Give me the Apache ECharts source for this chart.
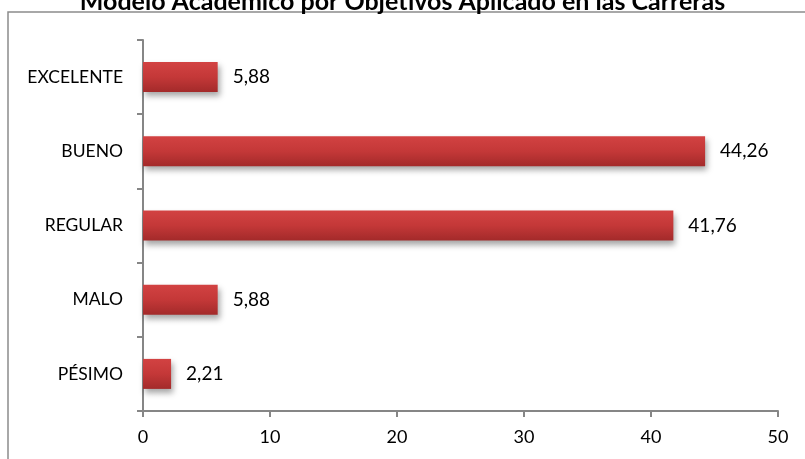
<!DOCTYPE html>
<html>
<head>
<meta charset="utf-8">
<script src="https://cdn.jsdelivr.net/npm/echarts@6/dist/echarts.min.js"></script>
<style>
  html, body { margin: 0; padding: 0; background: #fff; }
  #main { width: 805px; height: 459px; }
</style>
</head>
<body>
<div id="main"></div>
<script>
// datos del gráfico
const categorias = ['PÉSIMO', 'MALO', 'REGULAR', 'BUENO', 'EXCELENTE'];
const valores = [2.21, 5.88, 41.76, 44.26, 5.88];
const ticksX = [0, 10, 20, 30, 40, 50];

const chart = echarts.init(document.getElementById('main'));
const font = 'Lato, "Open Sans", sans-serif';

const option = {
    animation: false,
    backgroundColor: '#fff',
    textStyle: { fontFamily: font },
    title: {
        text: 'Modelo Académico por Objetivos Aplicado en las Carreras',
        left: 'center',
        top: -16,
        textStyle: { fontFamily: font, fontWeight: 'bold', fontSize: 25, color: '#000' },
    },
    graphic: [
        {
            type: 'rect',
            shape: { x: 8, y: 12, width: 820, height: 470 },
            style: { fill: 'none', stroke: '#8c8c8c', lineWidth: 1.5 },
            silent: true,
            z: -1,
        },
    ],
    grid: { left: 143, right: 27, top: 40, bottom: 48 },
    xAxis: {
        type: 'value',
        min: ticksX[0],
        max: ticksX[ticksX.length - 1],
        interval: 10,
        splitLine: { show: false },
        axisLine: { show: true, lineStyle: { color: '#868686', width: 2 } },
        axisTick: { show: true, length: 6, lineStyle: { color: '#868686', width: 2 } },
        axisLabel: { color: '#000', fontSize: 18, margin: 17 },
    },
    yAxis: {
        type: 'category',
        data: categorias,
        axisLine: { show: true, lineStyle: { color: '#868686', width: 2 } },
        axisTick: { show: true, length: 6, lineStyle: { color: '#868686', width: 2 } },
        axisLabel: { color: '#000', fontSize: 17.5, margin: 20 },
    },
    series: [
        {
            type: 'bar',
            data: valores,
            barWidth: 30,
            itemStyle: {
                color: new echarts.graphic.LinearGradient(0, 0, 0, 1, [
                    { offset: 0, color: '#d24242' },
                    { offset: 0.5, color: '#c43838' },
                    { offset: 1, color: '#a32a2a' },
                ]),
                shadowColor: 'rgba(0,0,0,0.35)',
                shadowBlur: 6,
                shadowOffsetX: 2,
                shadowOffsetY: 4,
            },
            label: {
                show: true,
                position: 'right',
                distance: 15,
                color: '#000',
                fontSize: 19,
                formatter: p => p.value.toFixed(2).replace('.', ','),
            },
        },
    ],
};
chart.setOption(option);
</script>
</body>
</html>
